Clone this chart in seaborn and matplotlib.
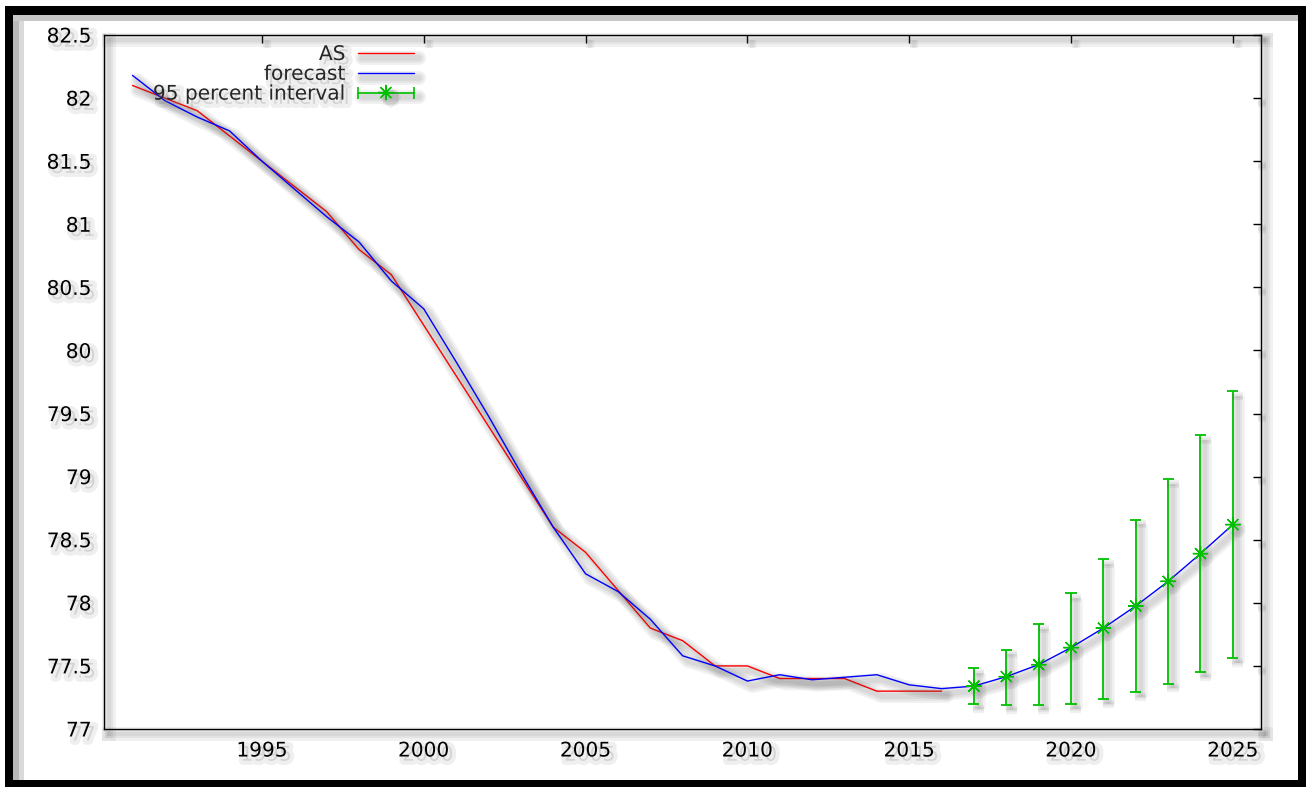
import numpy as np
import pandas as pd
import matplotlib
matplotlib.use('Agg')
import matplotlib.pyplot as plt
import matplotlib.patheffects as pe
from matplotlib.lines import Line2D
from matplotlib.legend_handler import HandlerLine2D, HandlerTuple
from matplotlib.patches import Rectangle
from matplotlib.ticker import FuncFormatter
import seaborn as sns

# ---------------- data ----------------
as_years = list(range(1991, 2017))
as_values = [82.1, 82.0, 81.9, 81.7, 81.5, 81.3, 81.1, 80.8, 80.6, 80.2,
             79.8, 79.4, 79.0, 78.6, 78.4, 78.1, 77.8, 77.7, 77.5, 77.5,
             77.4, 77.4, 77.4, 77.3, 77.3, 77.3]

fc_years = list(range(1991, 2026))
fc_values = [82.18, 81.98, 81.85, 81.74, 81.50, 81.28, 81.06, 80.86, 80.55, 80.33,
             79.91, 79.48, 79.03, 78.60, 78.23, 78.09, 77.87, 77.58, 77.50, 77.38,
             77.43, 77.39, 77.41, 77.43, 77.35, 77.32, 77.34, 77.415, 77.51, 77.645,
             77.80, 77.975, 78.17, 78.39, 78.62]

int_years = list(range(2017, 2026))
int_low = [77.20, 77.19, 77.19, 77.20, 77.24, 77.29, 77.36, 77.45, 77.56]
int_high = [77.48, 77.63, 77.83, 78.08, 78.35, 78.66, 78.98, 79.33, 79.68]

x_ticks = [1995, 2000, 2005, 2010, 2015, 2020, 2025]
y_ticks = [77, 77.5, 78, 78.5, 79, 79.5, 80, 80.5, 81, 81.5, 82, 82.5]
legend_labels = ['AS', 'forecast', '95 percent interval']

# ---------------- style ----------------
sns.set_style('white')
plt.rcParams['font.family'] = ['DejaVu Sans']

RED = '#ff0000'
BLUE = '#0000ff'
GREEN = '#00c000'
FS = 14.5

W, H = 1310, 787
fig = plt.figure(figsize=(W / 100, H / 100), dpi=100)
fig.patch.set_facecolor('white')
ax = fig.add_axes([104 / W, 1 - 729 / H, (1261 - 104) / W, (729 - 35) / H])
ax.set_facecolor('white')


def line_shadow(widths=(10, 7, 4), off=(3.5, -3.5), a=0.08):
    effs = [pe.SimpleLineShadow(offset=off, shadow_color='0.3', alpha=a, linewidth=lw)
            for lw in widths]
    return effs + [pe.Normal()]


def text_shadow():
    return [pe.SimpleLineShadow(offset=(3, -3), shadow_color='0.4', alpha=0.10, linewidth=6),
            pe.SimplePatchShadow(offset=(3, -3), shadow_rgbFace='0.5', alpha=0.25),
            pe.Normal()]


df_as = pd.DataFrame({'year': as_years, 'value': as_values})
df_fc = pd.DataFrame({'year': fc_years, 'value': fc_values})

sns.lineplot(data=df_as, x='year', y='value', color=RED, lw=1.0, ax=ax,
             legend=False, path_effects=line_shadow())
sns.lineplot(data=df_fc, x='year', y='value', color=BLUE, lw=1.0, ax=ax,
             legend=False, path_effects=line_shadow())

mid = np.array(fc_values[-len(int_years):])
low = np.array(int_low)
high = np.array(int_high)
eb = ax.errorbar(int_years, mid, yerr=[mid - low, high - mid], fmt='none',
                 ecolor=GREEN, elinewidth=1.3, capsize=4, capthick=1.3, zorder=3)
for cl in eb[1]:
    cl.set_path_effects(line_shadow(widths=(6, 3)))
for bl in eb[2]:
    bl.set_path_effects(line_shadow(widths=(9, 6, 3)))
mk, = ax.plot(int_years, mid, linestyle='none', marker=(8, 2, 0), ms=11, mew=1.0,
              color=GREEN, zorder=4)
mk.set_path_effects(line_shadow(widths=(4,), a=0.06))

# ---------------- axes ----------------
ax.set_xlim(1990.12, 2025.87)
ax.set_ylim(77, 82.5)
ax.set_xticks(x_ticks)
ax.set_yticks(y_ticks)
ax.yaxis.set_major_formatter(FuncFormatter(lambda v, p: '%g' % v))
ax.set_xlabel('')
ax.set_ylabel('')
ax.tick_params(direction='in', length=6, width=1, top=True, right=True,
               labelsize=FS, pad=9, colors='black')
for s in ax.spines.values():
    s.set_visible(True)
    s.set_color('black')
    s.set_linewidth(1.0)
    s.set_path_effects(line_shadow(widths=(10, 6, 3)))

for t in ax.xaxis.get_major_ticks() + ax.yaxis.get_major_ticks():
    t.tick1line.set_path_effects(line_shadow(widths=(6, 3)))
    t.tick2line.set_path_effects(line_shadow(widths=(6, 3)))
for lbl in ax.get_xticklabels() + ax.get_yticklabels():
    lbl.set_path_effects(text_shadow())

# ---------------- legend ----------------
h_as = Line2D([], [], color=RED, lw=1.0, path_effects=line_shadow())
h_fc = Line2D([], [], color=BLUE, lw=1.0, path_effects=line_shadow())
h_int = Line2D([], [], color=GREEN, lw=1.2, marker=(8, 2, 0), ms=11, mew=1.0,
               path_effects=line_shadow())
h_caps = Line2D([], [], color=GREEN, lw=0, linestyle='none', marker='|', ms=8, mew=1.2)
leg = ax.legend([h_as, h_fc, (h_int, h_caps)], legend_labels,
                handler_map={h_caps: HandlerLine2D(numpoints=2, marker_pad=0),
                             tuple: HandlerTuple(ndivide=1, pad=0)},
                markerfirst=False, frameon=False, loc='upper right',
                bbox_to_anchor=(414 / W, 1 - 45 / H), bbox_transform=fig.transFigure,
                fontsize=FS, handlelength=2.8, handletextpad=0.6, labelspacing=0.04,
                borderpad=0, borderaxespad=0, numpoints=1)
for t in leg.get_texts():
    t.set_path_effects(text_shadow())

# ---------------- outer frame ----------------
def figrect(x0, y0, x1, y1, color):
    fig.add_artist(Rectangle((x0 / W, 1 - y1 / H), (x1 - x0) / W, (y1 - y0) / H,
                             transform=fig.transFigure, facecolor=color,
                             edgecolor='none', zorder=10))

figrect(13, 15, 24, 780, '0.85')
figrect(13, 15, 19, 780, '0.72')
figrect(13, 15, 1298, 21, '0.78')
figrect(5, 6, 1306, 15, 'black')
figrect(5, 6, 13, 787, 'black')
figrect(1298, 6, 1306, 787, 'black')
figrect(5, 780, 1306, 787, 'black')

fig.savefig('out.png', dpi=100, facecolor='white')
